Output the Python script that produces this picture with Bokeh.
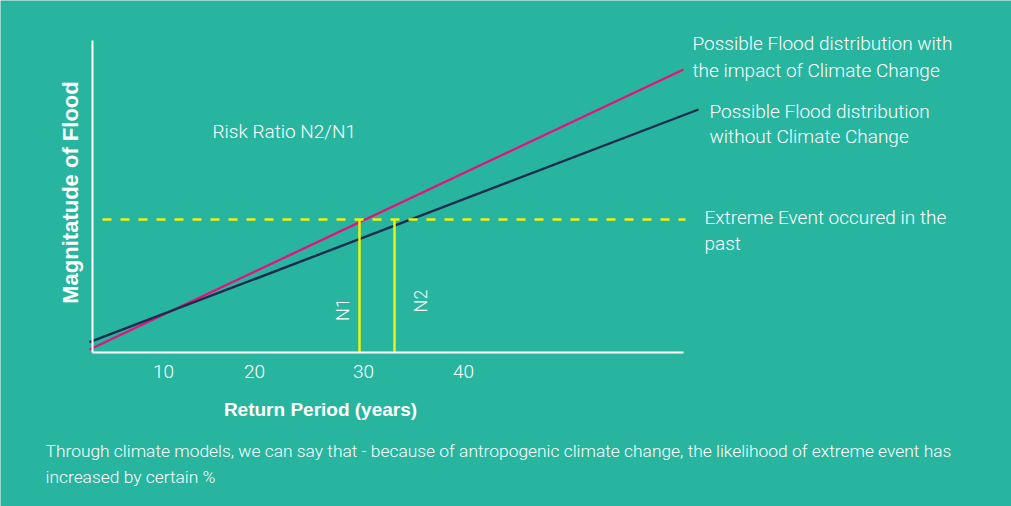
from math import pi
from bokeh.plotting import figure
from bokeh.models import Range1d, Label, FixedTicker
from bokeh.core.properties import value
from bokeh.embed import file_html
from bokeh.resources import INLINE

# ---- data ----
tick_values = [10, 19.1, 30, 40]
tick_labels = ["10", "20", "30", "40"]

with_cc_x = [2.6, 62.0]          # Possible Flood distribution with Climate Change
with_cc_y = [0.3, 28.3]
without_cc_x = [2.6, 63.5]       # Possible Flood distribution without Climate Change
without_cc_y = [1.03, 24.3]

event_magnitude = 13.3           # Extreme Event occured in the past
event_x = [3.9, 62.2]

n_periods = [29.6, 33.1]         # N1, N2 return periods
n_names = ["N1", "N2"]

x_axis_extent = (2.9, 62.0)
y_axis_extent = (0, 31.2)

# ---- styles ----
TEAL = "#27b5a0"
PINK = "#e4137c"
NAVY = "#1c2b4e"
YELLOW = "#eef20c"
WHITE = "#ffffff"
THIN = "'Roboto Light', Roboto"
BOLD = "Liberation Sans"

p = figure(width=1011, height=506, x_range=Range1d(-6.3, 94.8), y_range=Range1d(-15.4, 35.2),
           output_backend="svg", toolbar_location=None, min_border=0,
           background_fill_color=TEAL, border_fill_color=TEAL, outline_line_color=None)
p.grid.visible = False

# axes (drawn inside the frame at fixed locations)
p.xaxis.fixed_location = 0
p.xaxis.bounds = x_axis_extent
p.xaxis.ticker = FixedTicker(ticks=tick_values)
p.xaxis.major_label_overrides = {v: t for v, t in zip(tick_values, tick_labels)}
p.xaxis.major_label_text_font = THIN
p.xaxis.major_label_text_font_size = "19px"
p.xaxis.major_label_text_color = WHITE
p.xaxis.major_label_standoff = 6
p.yaxis.fixed_location = x_axis_extent[0]
p.yaxis.bounds = y_axis_extent
p.yaxis.ticker = FixedTicker(ticks=[])
p.yaxis.major_label_text_font_size = "0px"
for ax in (p.xaxis, p.yaxis):
    ax.axis_line_color = WHITE
    ax.axis_line_width = 2
    ax.major_tick_line_color = None
    ax.minor_tick_line_color = None

# series
p.line(with_cc_x, with_cc_y, line_color=PINK, line_width=2.4)
p.line(without_cc_x, without_cc_y, line_color=NAVY, line_width=2.4)
p.line(event_x, [event_magnitude] * len(event_x), line_color=YELLOW, line_width=2.5, line_dash="9 9")
p.segment(x0=n_periods, y0=[0] * len(n_periods), x1=n_periods, y1=[event_magnitude] * len(n_periods),
          line_color=YELLOW, line_width=2.5)

# N labels
p.text(x=[27.85, 35.7], y=[4.3, 5.15], text=n_names, angle=pi / 2,
       text_font=value(THIN), text_font_size="18px", text_color=WHITE,
       text_align="center", text_baseline="middle")


def lab(x, y, text, size="19px", font=THIN, style="normal", align="left", baseline="alphabetic", angle=0):
    p.add_layout(Label(x=x, y=y, text=text, text_font=font, text_font_size=size,
                       text_font_style=style, text_color=WHITE, text_align=align,
                       text_baseline=baseline, angle=angle))


lab(62.9, 30.9, "Possible Flood distribution with")
lab(62.9, 28.2, "the impact of Climate Change")
lab(64.6, 24.13, "Possible Flood distribution")
lab(64.6, 21.57, "without Climate Change")
lab(64.1, 13.5, "Extreme Event occured in the")
lab(64.1, 10.9, "past")
lab(14.9, 22.1, "Risk Ratio N2/N1")

# axis titles
lab(25.7, -5.7, "Return Period (years)", size="19px", font=BOLD, style="bold", align="center")
lab(0.65, 16.0, "Magnitatude of Flood", size="22px", font=BOLD, style="bold", align="center",
    baseline="middle", angle=pi / 2)

# footer
lab(-1.8, -9.8, "Through climate models, we can say that - because of antropogenic climate change, "
                "the likelihood of extreme event has", size="17.4px")
lab(-1.8, -12.45, "increased by certain %", size="17.4px")

open("out.html", "w").write(file_html(p, INLINE))
